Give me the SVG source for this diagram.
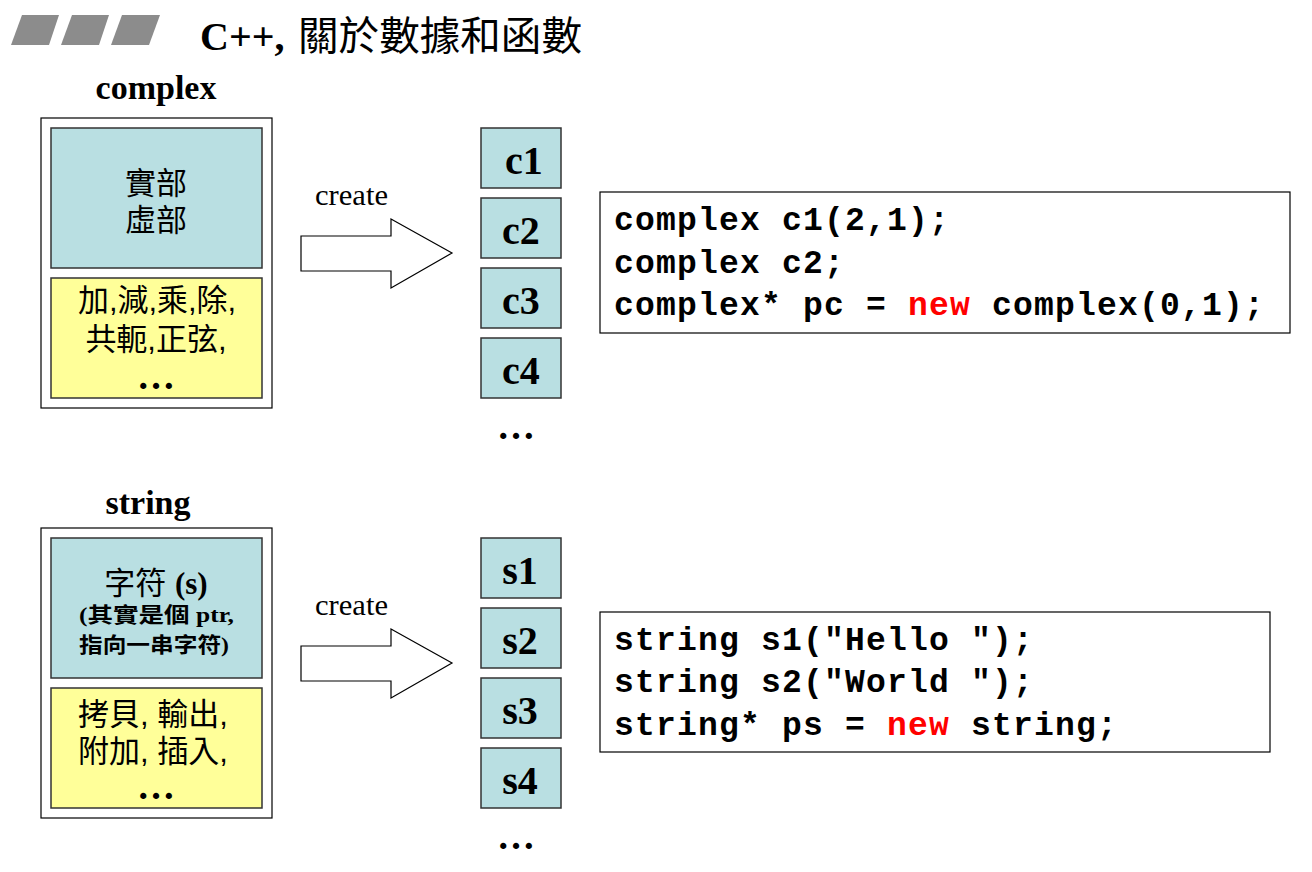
<svg xmlns="http://www.w3.org/2000/svg" width="1312" height="872" viewBox="0 0 1312 872">
<style>
.bar{fill:#8c8c8c}
.outer{fill:#fff;stroke:#000;stroke-width:1.2}
.blue{fill:#b9dfe2;stroke:#333;stroke-width:1.5}
.yel{fill:#ffff99;stroke:#333;stroke-width:1.5}
.arrow{fill:#fff;stroke:#000;stroke-width:1.2}
.code{fill:#fff;stroke:#000;stroke-width:1.2}
.serifb{font-family:"Liberation Serif","Noto Sans CJK TC",serif;font-weight:bold;fill:#000}
.serif{font-family:"Liberation Serif",serif;fill:#000}
.cjk{font-family:"Liberation Sans","Noto Sans CJK TC",sans-serif;fill:#000}
.mono{font-family:"Liberation Mono",monospace;font-weight:bold;font-size:33px;letter-spacing:1.2px;fill:#000}
.red{fill:#ff0000}
.dots{font-family:"Liberation Serif",serif;font-weight:bold;font-size:38px;text-anchor:middle;fill:#000}
.lbl{font-family:"Liberation Serif",serif;font-weight:bold;font-size:40px;text-anchor:middle;fill:#000}
</style>
<rect width="1312" height="872" fill="#fff"/>
<g id="title">
<polygon class="bar" points="22,15 59,15 49,45 11,45"/>
<polygon class="bar" points="72,15 109,15 99,45 61,45"/>
<polygon class="bar" points="122,15 160,15 149,45 111,45"/>
<text x="200" y="50" class="serifb" font-size="40">C++,</text>
<text x="298" y="50" class="cjk" font-size="40" textLength="284" lengthAdjust="spacingAndGlyphs">關於數據和函數</text>
</g>
<g id="complex-class">
<text x="156" y="99" class="serifb" font-size="34" text-anchor="middle">complex</text>
<rect class="outer" x="41" y="118" width="231" height="290"/>
<rect class="blue" x="51" y="128" width="211" height="140"/>
<text x="156" y="194" class="cjk" font-size="31" text-anchor="middle">實部</text>
<text x="156" y="231" class="cjk" font-size="31" text-anchor="middle">虛部</text>
<rect class="yel" x="51" y="278" width="211" height="120"/>
<text x="157" y="311" class="cjk" font-size="31" text-anchor="middle" textLength="158" lengthAdjust="spacingAndGlyphs">加,減,乘,除,</text>
<text x="156" y="350" class="cjk" font-size="31" text-anchor="middle">共軛,正弦,</text>
<text x="156" y="389" class="dots">…</text>
</g>
<g id="string-class">
<text x="148" y="514" class="serifb" font-size="34" text-anchor="middle">string</text>
<rect class="outer" x="41" y="528" width="231" height="290"/>
<rect class="blue" x="51" y="538" width="211" height="140"/>
<text x="156" y="594" class="cjk" font-size="31" text-anchor="middle">字符 <tspan class="serifb">(s)</tspan></text>
<text x="79" y="622" class="serifb" font-size="21" textLength="155" lengthAdjust="spacingAndGlyphs">(其實是個 ptr,</text>
<text x="79" y="652" class="serifb" font-size="21" textLength="150" lengthAdjust="spacingAndGlyphs">指向一串字符)</text>
<rect class="yel" x="51" y="688" width="211" height="120"/>
<text x="153" y="725" class="cjk" font-size="31" text-anchor="middle">拷貝, 輸出,</text>
<text x="153" y="762" class="cjk" font-size="31" text-anchor="middle">附加, 插入,</text>
<text x="156" y="799" class="dots">…</text>
</g>
<g id="connectors">
<polygon class="arrow" points="301,236 391,236 391,219 452,253 391,288 391,271 301,271"/>
<text x="315" y="205" class="serif" font-size="29" textLength="73" lengthAdjust="spacingAndGlyphs">create</text>
<polygon class="arrow" points="301,646 391,646 391,629 452,663 391,698 391,681 301,681"/>
<text x="315" y="615" class="serif" font-size="29" textLength="73" lengthAdjust="spacingAndGlyphs">create</text>
</g>
<g id="c-objects">
<rect class="blue" x="481" y="128" width="80" height="60"/><text x="524" y="174" class="lbl">c1</text>
<rect class="blue" x="481" y="198" width="80" height="60"/><text x="521" y="244" class="lbl">c2</text>
<rect class="blue" x="481" y="268" width="80" height="60"/><text x="521" y="314" class="lbl">c3</text>
<rect class="blue" x="481" y="338" width="80" height="60"/><text x="521" y="384" class="lbl">c4</text>
<text x="516" y="439" class="dots">…</text>
</g>
<g id="s-objects">
<rect class="blue" x="481" y="538" width="80" height="60"/><text x="520" y="584" class="lbl">s1</text>
<rect class="blue" x="481" y="608" width="80" height="60"/><text x="520" y="654" class="lbl">s2</text>
<rect class="blue" x="481" y="678" width="80" height="60"/><text x="520" y="724" class="lbl">s3</text>
<rect class="blue" x="481" y="748" width="80" height="60"/><text x="520" y="794" class="lbl">s4</text>
<text x="516" y="849" class="dots">…</text>
</g>
<g id="complex-code">
<rect class="code" x="600" y="192" width="690" height="141"/>
<text x="614" y="230" class="mono" xml:space="preserve">complex c1(2,1);</text>
<text x="614" y="273" class="mono" xml:space="preserve">complex c2;</text>
<text x="614" y="315" class="mono" xml:space="preserve">complex* pc = <tspan class="red">new</tspan> complex(0,1);</text>
</g>
<g id="string-code">
<rect class="code" x="600" y="612" width="670" height="140"/>
<text x="614" y="650" class="mono" xml:space="preserve">string s1("Hello ");</text>
<text x="614" y="692" class="mono" xml:space="preserve">string s2("World ");</text>
<text x="614" y="735" class="mono" xml:space="preserve">string* ps = <tspan class="red">new</tspan> string;</text>
</g>
</svg>
